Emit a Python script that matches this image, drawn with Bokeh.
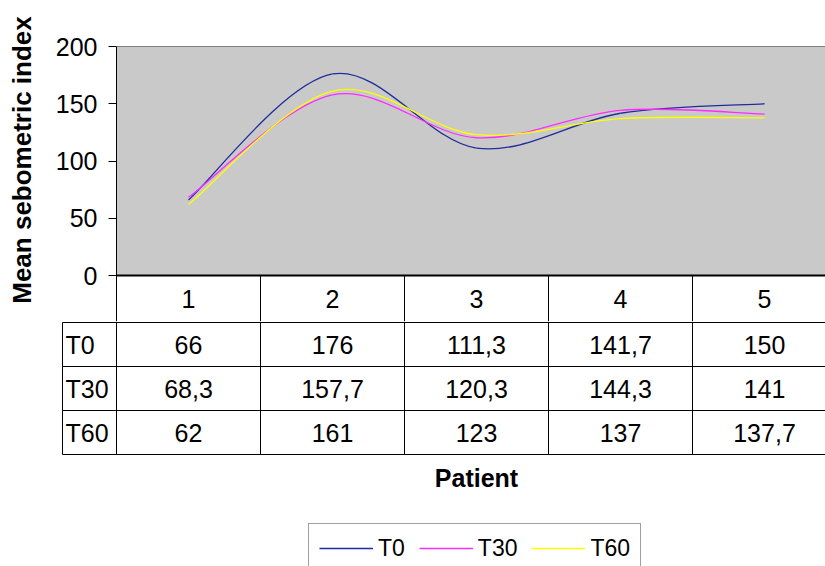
import numpy as np
from bokeh.plotting import figure
from bokeh.models import Range1d, FixedTicker, Legend, LegendItem, Label
from bokeh.embed import file_html
from bokeh.resources import INLINE
from bokeh.core.properties import value

# ---------------- data ----------------
patients = [1, 2, 3, 4, 5]
series_names = ["T0", "T30", "T60"]
t0 = [66, 176, 111.3, 141.7, 150]
t30 = [68.3, 157.7, 120.3, 144.3, 141]
t60 = [62, 161, 123, 137, 137.7]
y_ticks = [0, 50, 100, 150, 200]
y_title = "Mean sebometric index"
x_title = "Patient"

series = [t0, t30, t60]
colors = ["#1E2D9B", "#FF2BFF", "#FFFF00"]
FONT = "Liberation Sans"

# ---------------- geometry (page pixels) ----------------
W, H = 825, 566
COL_W = 144.0          # px per patient column
X1_PAGE = 188.0        # page x of patient 1
Y200_PAGE, Y0_PAGE = 46.0, 275.0
PPU = (Y0_PAGE - Y200_PAGE) / 200.0
A_TOP = 44
HEADER_H = 46
A_H = int(Y0_PAGE) + HEADER_H          # 321
HEADER_BOT_PAGE = 322.0
ROW_H = 44.0


def xdata(px):
    return 1 + (px - X1_PAGE) / COL_W


XA0, X_END = xdata(116), xdata(W)
YA1 = 200 + (Y200_PAGE - A_TOP) / PPU

# ---------------- smoothing (Excel-like bezier) ----------------
def smooth(xs, ys):
    P = np.column_stack([xs, ys]).astype(float)
    E = np.vstack([P[0], P, P[-1]])
    p0, p1, p2, p3 = E[:-3], E[1:-2], E[2:-1], E[3:]
    c0 = p1 + (p2 - p0) / 6.0
    c1 = p2 - (p3 - p1) / 6.0
    return dict(x0=p1[:, 0], y0=p1[:, 1], x1=p2[:, 0], y1=p2[:, 1],
                cx0=c0[:, 0], cy0=c0[:, 1], cx1=c1[:, 0], cy1=c1[:, 1])


def fmt(v):
    return f"{v:g}".replace(".", ",")


n = len(patients)
m = len(series_names)
bounds_x = list(np.arange(n + 1) + 0.5)

# ---------------- figure A: chart + header row (x axis) ----------------
pA = figure(width=W, height=A_H, x_range=Range1d(XA0, X_END),
            y_range=Range1d(0, YA1),
            toolbar_location=None, output_backend="svg",
            min_border_left=116, min_border_right=0,
            min_border_top=A_TOP, min_border_bottom=HEADER_H)
pA.grid.visible = False
pA.outline_line_color = None
pA.background_fill_color = "white"
pA.border_fill_color = "white"

ya = pA.yaxis[0]
ya.ticker = FixedTicker(ticks=y_ticks)
ya.bounds = (0, 200)
ya.major_tick_out = 8
ya.major_tick_in = 0
ya.minor_tick_out = 0
ya.minor_tick_in = 0
ya.axis_line_color = "black"
ya.axis_line_width = 1
ya.major_tick_line_color = "black"
ya.major_label_text_font = FONT
ya.major_label_text_font_size = "25px"
ya.major_label_text_color = "black"
ya.major_label_standoff = 11
ya.axis_label = y_title
ya.axis_label_text_font = FONT
ya.axis_label_text_font_size = "26px"
ya.axis_label_text_font_style = "bold"
ya.axis_label_text_color = "black"
ya.axis_label_standoff = 16

xa = pA.xaxis[0]
xa.ticker = FixedTicker(ticks=patients, minor_ticks=bounds_x)
xa.major_label_overrides = {p: str(p) for p in patients}
xa.major_tick_out = 0
xa.major_tick_in = 0
xa.minor_tick_out = HEADER_H
xa.minor_tick_in = 0
xa.minor_tick_line_color = "black"
xa.minor_tick_line_width = 1
xa.axis_line_color = "black"
xa.axis_line_width = 2
xa.major_label_text_font = FONT
xa.major_label_text_font_size = "25px"
xa.major_label_text_color = "black"
xa.major_label_standoff = -32

# plot area
pA.quad(left=[0.5], right=[n + 0.5], bottom=[0], top=[200],
        fill_color="#C9C9C9", line_color=None)
pA.segment(x0=[0.5], y0=[200], x1=[n + 0.5], y1=[200], line_color="#808080", line_width=1)

for s, c in zip(series, colors):
    d = smooth(patients, s)
    pA.bezier(x0=d["x0"], y0=d["y0"], x1=d["x1"], y1=d["y1"],
              cx0=d["cx0"], cy0=d["cy0"], cx1=d["cx1"], cy1=d["cy1"],
              line_color=c, line_width=1.3)

# ---------------- figure B: table rows, x title, legend ----------------
B_H = H - A_H
YB_TOP = -(HEADER_BOT_PAGE - A_H) / ROW_H
YB_BOT = (H - HEADER_BOT_PAGE) / ROW_H
XB0 = xdata(61)
XROW = xdata(62)

pB = figure(width=W, height=B_H, x_range=Range1d(XB0, X_END),
            y_range=Range1d(YB_BOT, YB_TOP), x_axis_type=None, y_axis_type=None,
            toolbar_location=None, output_backend="svg",
            min_border_left=61, min_border_right=0, min_border_top=0, min_border_bottom=0)
pB.grid.visible = False
pB.outline_line_color = None
pB.background_fill_color = "white"
pB.border_fill_color = "white"

hy = np.arange(m + 1)
pB.segment(x0=np.full(m + 1, XROW), y0=hy, x1=np.full(m + 1, n + 0.6), y1=hy,
           line_color="black", line_width=1)
pB.segment(x0=[XROW], y0=[0], x1=[XROW], y1=[m], line_color="black", line_width=1)
pB.segment(x0=bounds_x, y0=[YB_TOP] * (n + 1), x1=bounds_x, y1=[m] * (n + 1),
           line_color="black", line_width=1)

for k, (name, s) in enumerate(zip(series_names, series)):
    pB.text(x=[XROW + 3 / COL_W], y=[k + 0.5], text=[name],
            text_font=value(FONT), text_font_size=value("25px"),
            text_align="left", text_baseline="middle", text_color="black")
    pB.text(x=patients, y=[k + 0.5] * n, text=[fmt(v) for v in s],
            text_font=value(FONT), text_font_size=value("25px"),
            text_align="center", text_baseline="middle", text_color="black")

pB.add_layout(Label(x=(1 + n) / 2, y=(477 - HEADER_BOT_PAGE) / ROW_H, text=x_title,
                    text_align="center", text_baseline="middle",
                    text_font=FONT, text_font_size="25px", text_font_style="bold",
                    text_color="black"))

proxies = [pB.line(x=[np.nan], y=[np.nan], line_color=c, line_width=1.5) for c in colors]
legend = Legend(items=[LegendItem(label=nm, renderers=[r]) for nm, r in zip(series_names, proxies)],
                location=(308 - 61, -7), orientation="horizontal",
                label_text_font=FONT, label_text_font_size="23px", label_text_color="black",
                glyph_width=54, glyph_height=28, label_height=28,
                label_standoff=5, spacing=14, padding=10, margin=0,
                border_line_color="#404040", border_line_width=1,
                background_fill_color="white", background_fill_alpha=1.0)
pB.add_layout(legend)

open("out.html", "w").write(file_html([pA, pB], INLINE))
